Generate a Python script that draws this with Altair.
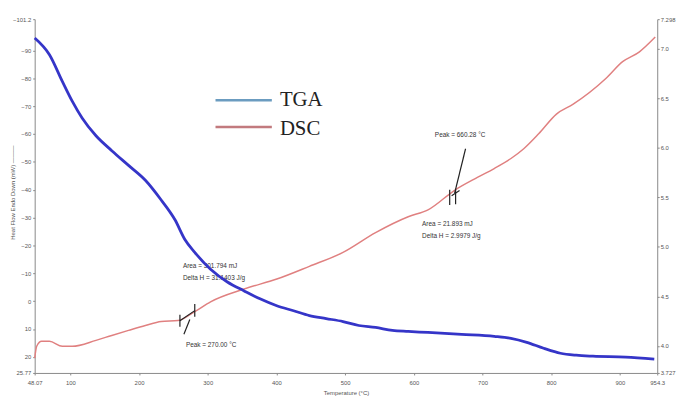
import altair as alt
import pandas as pd

# TGA (weight, right axis)
tga_temp = [48.1, 69.6, 88.3, 102.7, 117.1, 137.3, 160.3, 184.7, 209.2, 232.2, 252.3, 266.7,
            281.1, 304.1, 328.6, 353.0, 376.1, 400.5, 424.9, 447.9, 472.4, 496.9, 519.9, 544.3,
            568.8, 591.8, 620.6, 669.5, 717.0, 741.4, 764.4, 788.9, 813.4, 836.4, 860.8, 908.3, 950.0]
tga_weight = [7.108, 6.939, 6.670, 6.470, 6.300, 6.121, 5.971, 5.822, 5.672, 5.473, 5.273, 5.074,
              4.944, 4.774, 4.645, 4.555, 4.475, 4.405, 4.355, 4.306, 4.276, 4.246, 4.206, 4.186,
              4.156, 4.146, 4.136, 4.116, 4.096, 4.076, 4.036, 3.976, 3.926, 3.906, 3.896, 3.886, 3.866]

# DSC (heat flow, left axis, endo down -> reversed)
dsc_temp = [48.1, 51.0, 58.1, 69.6, 88.3, 102.7, 137.3, 160.3, 184.7, 209.2, 232.2, 256.6, 281.1,
            304.1, 353.0, 400.5, 447.9, 496.9, 544.3, 591.8, 620.6, 659.4, 692.5, 717.0, 741.4,
            760.0, 781.7, 807.6, 832.0, 879.5, 903.9, 928.4, 951.4]
dsc_heat = [20.45, 16.2, 14.4, 14.4, 16.2, 16.2, 14.07, 12.3, 10.5, 8.75, 7.33, 6.97, 3.78,
            0.23, -4.38, -7.93, -12.5, -17.5, -24.6, -30.3, -32.75, -39.8, -44.4, -47.6, -51.2,
            -54.7, -60.06, -67.15, -70.7, -79.9, -85.95, -89.5, -94.8]

x_ticks = [48.07, 100, 200, 300, 400, 500, 600, 700, 800, 900, 954.3]
left_ticks = [-101.2, -90, -80, -70, -60, -50, -40, -30, -20, -10, 0, 10, 20, 25.77]
right_ticks = [3.727, 4.0, 4.5, 5.0, 5.5, 6.0, 6.5, 7.0, 7.298]

# annotations (temperature, heat flow)
ann_text = ["Area = 301.794 mJ", "Delta H = 31.1403 J/g", "Peak = 270.00 °C",
            "Peak = 660.28 °C", "Area = 21.893 mJ", "Delta H = 2.9979 J/g"]
ann_x = [263.8, 263.8, 268.2, 630.6, 612.0, 612.0]
ann_y = [-12.5, -8.3, 15.8, -59.7, -27.8, -23.2]

seg_x = [259.5, 259.5, 281.1, 265.3, 652.2, 660.8, 659.4, 655.0]
seg_y = [7.0, 4.9, 1.0, 11.9, -34.5, -34.8, -38.8, -37.8]
seg_x2 = [281.1, 259.5, 281.1, 273.9, 652.2, 660.8, 675.3, 666.5]
seg_y2 = [3.4, 9.2, 5.6, 6.6, -40.0, -40.3, -54.7, -39.7]

legend_names = ["TGA", "DSC"]
legend_colors = ["#6b9cc0", "#c27a7e"]
legend_x = [311.3, 311.3]
legend_x2 = [393.3, 393.3]
legend_y = [-72.1, -62.5]
legend_tx = [405.0, 405.0]
legend_ty = [-72.1, -61.8]

XMIN, XMAX = 48.07, 954.3
LMIN, LMAX = -101.2, 25.77
RMIN, RMAX = 3.727, 7.298

tga = pd.DataFrame({"T": tga_temp, "W": tga_weight})
dsc = pd.DataFrame({"T": dsc_temp, "H": dsc_heat})
ann = pd.DataFrame({"T": ann_x, "H": ann_y, "label": ann_text})
seg = pd.DataFrame({"x": seg_x, "y": seg_y, "x2": seg_x2, "y2": seg_y2})
leg = pd.DataFrame({"name": legend_names, "color": legend_colors, "x": legend_x, "x2": legend_x2,
                    "y": legend_y, "tx": legend_tx, "ty": legend_ty})

xscale = alt.Scale(domain=[XMIN, XMAX], nice=False, zero=False)
lscale = alt.Scale(domain=[LMIN, LMAX], nice=False, zero=False, reverse=True)
rscale = alt.Scale(domain=[RMIN, RMAX], nice=False, zero=False)

axis_common = dict(labelFont="Liberation Sans", labelFontSize=6, labelColor="#555",
                   titleFont="Liberation Sans", titleFontSize=6, titleColor="#555",
                   titleFontWeight="normal", domainColor="#888", tickColor="#888",
                   tickSize=2, grid=False, labelFlush=False, labelOverlap=False)

xaxis = alt.Axis(values=x_ticks, title="Temperature (°C)", labelPadding=5, titlePadding=4,
                 labelExpr="format(datum.value, '~g')", **axis_common)
laxis = alt.Axis(values=left_ticks, title="Heat Flow Endo Down (mW)  ———",
                 labelExpr="format(datum.value, '~g')", labelPadding=2,
                 titleAnchor=None, titleX=-22, titleY=175, titleAngle=-90,
                 titleAlign="center", titleBaseline="middle", **axis_common)

dsc_line = alt.Chart(dsc).mark_line(color="#e08080", strokeWidth=1.5, interpolate="monotone").encode(
    x=alt.X("T:Q", scale=xscale, axis=xaxis),
    y=alt.Y("H:Q", scale=lscale, axis=laxis),
)

ann_txt = alt.Chart(ann).mark_text(align="left", baseline="middle", font="Liberation Sans",
                                   fontSize=6.5, color="#333").encode(
    x=alt.X("T:Q", scale=xscale, axis=xaxis), y=alt.Y("H:Q", scale=lscale, axis=laxis),
    text="label:N")

segs = alt.Chart(seg).mark_rule(color="#222", strokeWidth=1.2).encode(
    x=alt.X("x:Q", scale=xscale, axis=xaxis), y=alt.Y("y:Q", scale=lscale, axis=laxis),
    x2="x2:Q", y2="y2:Q")

leg_lines = alt.Chart(leg).mark_rule(strokeWidth=2.5).encode(
    x=alt.X("x:Q", scale=xscale, axis=xaxis), x2="x2:Q",
    y=alt.Y("y:Q", scale=lscale, axis=laxis), y2="y:Q",
    color=alt.Color("color:N", scale=None))

leg_text = alt.Chart(leg).mark_text(align="left", baseline="middle", font="Liberation Serif",
                                    fontSize=21, color="#222").encode(
    x=alt.X("tx:Q", scale=xscale, axis=xaxis), y=alt.Y("ty:Q", scale=lscale, axis=laxis),
    text="name:N")

left_group = alt.layer(dsc_line, segs, ann_txt, leg_lines, leg_text)

tga_line = alt.Chart(tga).mark_line(color="#3535c8", strokeWidth=2.8, interpolate="monotone").encode(
    x=alt.X("T:Q", scale=xscale, axis=xaxis),
    y=alt.Y("W:Q", scale=rscale,
            axis=alt.Axis(values=right_ticks, orient="right", title=None, labelPadding=1,
                          labelExpr="datum.value == 3.727 ? '3.727' : datum.value == 7.298 ? '7.298' : format(datum.value, '.1f')",
                          **axis_common)),
)

chart = alt.layer(left_group, tga_line).resolve_scale(y="independent").properties(
    width=630, height=358,
    autosize=alt.AutoSizeParams(type="none"),
    padding={"left": 27, "top": 9, "right": 19, "bottom": 21},
).configure(background="white").configure_view(stroke=None).configure_axis(labelOverlap=False)

chart.save("out.html", embed_options={"renderer": "svg", "actions": False})
